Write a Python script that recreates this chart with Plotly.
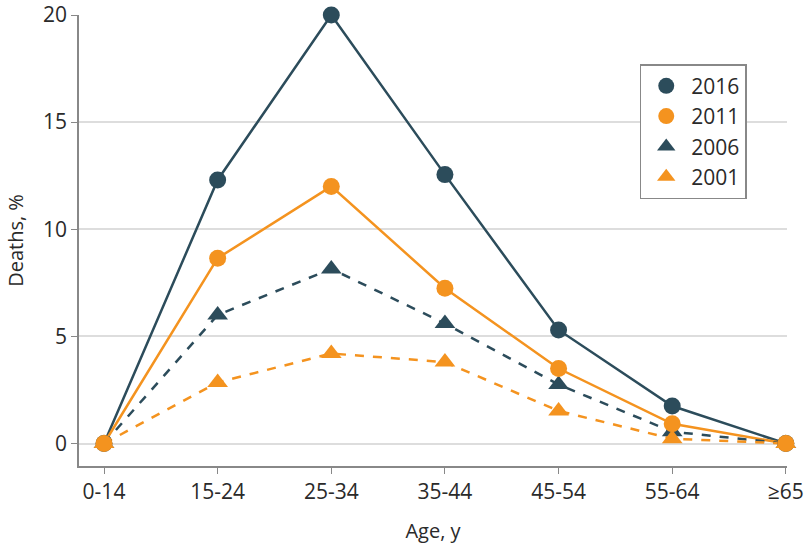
import plotly.graph_objects as go

ages = ["0-14", "15-24", "25-34", "35-44", "45-54", "55-64", "≥65"]
y2016 = [0, 12.3, 20.0, 12.55, 5.3, 1.75, 0]
y2011 = [0, 8.65, 12.0, 7.25, 3.5, 0.92, 0]
y2006 = [0, 6.0, 8.15, 5.6, 2.75, 0.55, 0]
y2001 = [0, 2.85, 4.2, 3.8, 1.52, 0.22, 0]
yticks = [0, 5, 10, 15, 20]

DARK = "#2c4c5b"
ORANGE = "#f4931f"
FONT = "Open Sans, Noto Sans, sans-serif"

series = [
    ("2016", y2016, DARK, "circle", "solid", 1),
    ("2011", y2011, ORANGE, "circle", "solid", 2),
    ("2006", y2006, DARK, "triangle-up", "dash", 3),
    ("2001", y2001, ORANGE, "triangle-up", "dash", 4),
]

xs = list(range(len(ages)))
fig = go.Figure()
for name, ys, col, sym, dash, rank in series:
    fig.add_trace(go.Scatter(x=xs, y=ys, mode="lines", showlegend=False,
                             line=dict(color=col, width=2.5, dash=dash),
                             cliponaxis=False, hoverinfo="skip"))
order = ["2016", "2006", "2001", "2011"]
for nm in order:
    name, ys, col, sym, dash, rank = [s for s in series if s[0] == nm][0]
    fig.add_trace(go.Scatter(x=xs, y=ys, mode="markers", name=name, legendrank=rank,
                             marker=dict(color=col, symbol=sym, size=17 if sym == "circle" else 18),
                             cliponaxis=False))

fig.update_layout(
    width=810, height=549,
    margin=dict(l=79, r=23, t=15, b=83),
    paper_bgcolor="white", plot_bgcolor="white",
    font=dict(family=FONT, size=21, color="#2a2a2a"),
    legend=dict(x=0.792, y=0.891, xanchor="left", yanchor="top",
                bordercolor="#888888", borderwidth=1.5, bgcolor="white",
                font=dict(size=21), itemwidth=40, entrywidth=115, tracegroupgap=0),
)
fig.update_xaxes(
    range=[-0.22, 6.01], tickmode="array", tickvals=xs, ticktext=ages,
    showline=True, linecolor="#888888", linewidth=1.5,
    ticks="outside", ticklen=6, tickcolor="#888888",
    showgrid=False, zeroline=False, automargin=False,
    title=dict(text="Age, y", font=dict(size=20), standoff=20),
)
fig.update_yaxes(
    range=[-1.05, 20], tickmode="array", tickvals=yticks,
    showline=True, linecolor="#888888", linewidth=1.5,
    ticks="outside", ticklen=6, tickcolor="#888888",
    showgrid=True, gridcolor="#dddddd", gridwidth=1.5, zeroline=False, automargin=False,
    title=dict(text="Deaths, %", font=dict(size=20), standoff=14),
)
fig.write_html("out.html", config={"displayModeBar": False},
               post_script="document.body.style.margin='0';")
